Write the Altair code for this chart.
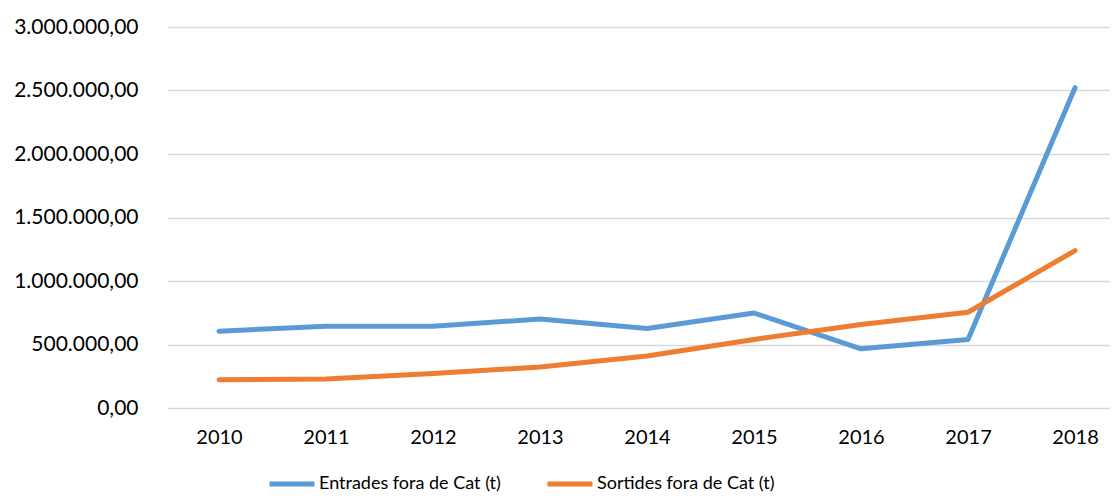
import altair as alt
import pandas as pd

years = ["2010", "2011", "2012", "2013", "2014", "2015", "2016", "2017", "2018"]
entrades = [605000, 644000, 644000, 701000, 626000, 748000, 466000, 540000, 2522000]
sortides = [222000, 229000, 271000, 323000, 409000, 540000, 657000, 754000, 1239000]
series_names = ["Entrades fora de Cat (t)", "Sortides fora de Cat (t)"]
colors = ["#5B9BD5", "#ED7D31"]
y_ticks = [0, 500000, 1000000, 1500000, 2000000, 2500000, 3000000]

rows = []
for name, vals in zip(series_names, [entrades, sortides]):
    for yr, v in zip(years, vals):
        rows.append({"Any": yr, "Serie": name, "Valor": v})
df = pd.DataFrame(rows)

FONT = "Lato"

chart = alt.Chart(df).mark_line(strokeWidth=5, strokeCap="round", strokeJoin="round").encode(
    x=alt.X("Any:O", sort=years,
            scale=alt.Scale(type="point", padding=0.4065, align=0.598),
            axis=alt.Axis(title=None, labelAngle=0, ticks=False, domain=False, grid=False,
                          labelPadding=19, labelFontSize=20, labelFont=FONT, labelColor="#000000")),
    y=alt.Y("Valor:Q", scale=alt.Scale(domain=[0, 3000000], nice=False),
            axis=alt.Axis(title=None, values=y_ticks, format=",.2f", ticks=False, domain=False,
                          grid=True, gridColor="#D9D9D9", gridWidth=1.5,
                          labelPadding=29, labelFontSize=21, labelFont=FONT, labelColor="#000000")),
    color=alt.Color("Serie:N", sort=series_names,
                    scale=alt.Scale(domain=series_names, range=colors),
                    legend=alt.Legend(title=None, orient="none", direction="horizontal",
                                      legendX=100, legendY=432,
                                      symbolType="stroke", symbolSize=2025, symbolStrokeWidth=5,
                                      labelFontSize=18, labelFont=FONT, labelColor="#000000",
                                      labelLimit=400, labelOffset=2, columnPadding=36)),
).properties(
    width=943, height=381,
    autosize=alt.AutoSizeParams(type="none"),
    padding={"left": 159, "top": 19, "right": 0, "bottom": 86},
).configure(
    locale={"number": {"decimal": ",", "thousands": ".", "grouping": [3], "currency": ["", " €"]}}
).configure_view(stroke=None)

chart.save("out.html", embed_options={"renderer": "svg", "actions": False})
